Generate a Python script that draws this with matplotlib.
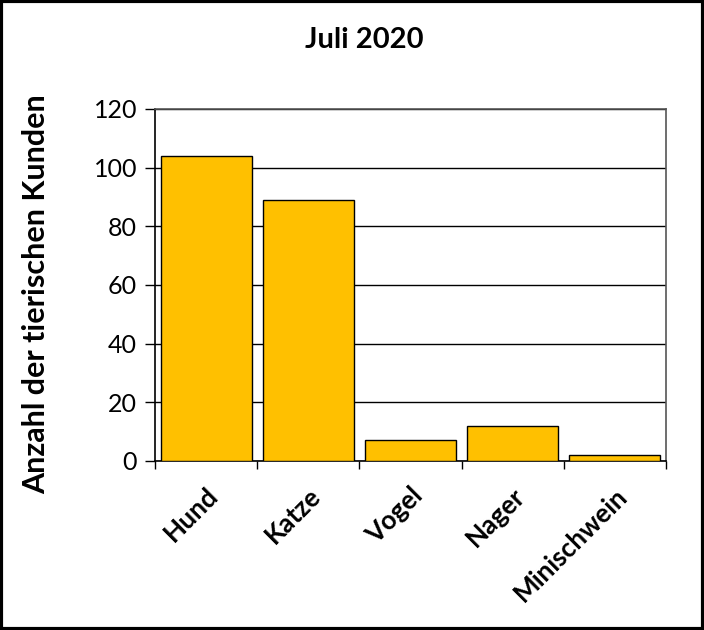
import matplotlib.pyplot as plt
import numpy as np

plt.rcParams['font.family'] = ['Lato', 'DejaVu Sans']

categories = ["Hund", "Katze", "Vogel", "Nager", "Minischwein"]
counts = [104, 89, 7, 12, 2]
y_ticks = [0, 20, 40, 60, 80, 100, 120]

fig = plt.figure(figsize=(7.04, 6.30), dpi=100)
ax = fig.add_axes([0.2202, 0.2683, 0.7258, 0.5587])

x = np.arange(len(categories))
ax.bar(x, counts, width=0.89, color="#FFC000", edgecolor="black", linewidth=1, zorder=3)

ax.set_xlim(-0.5, len(categories) - 0.5)
ax.set_ylim(0, 120)
ax.set_yticks(y_ticks)
ax.yaxis.grid(True, color="black", linewidth=1, zorder=0)
ax.tick_params(axis="y", direction="out", length=7, width=1, labelsize=18, pad=6)

# ticks at category boundaries, labels centred on bars
ax.set_xticks(np.arange(len(categories) + 1) - 0.5)
ax.set_xticklabels([])
ax.set_xticks(x, minor=True)
ax.set_xticklabels(categories, minor=True, rotation=45, ha="right",
                   rotation_mode="anchor", fontsize=19, fontweight="bold")
ax.tick_params(axis="x", which="major", direction="out", length=6, width=1)
ax.tick_params(axis="x", which="minor", length=0, pad=16)

for s in ax.spines.values():
    s.set_color("#555555")
    s.set_linewidth(1.2)
ax.spines["left"].set_color("black")
ax.spines["bottom"].set_color("black")

ax.set_ylabel("Anzahl der tierischen Kunden", fontsize=22, fontweight="bold")
ax.yaxis.set_label_coords(-0.205, 0.474)
fig.text(0.518, 0.937, "Juli 2020", ha="center", va="center", fontsize=21, fontweight="bold")

# outer frame
fig.patches.append(plt.Rectangle((0.002, 0.002), 0.996, 0.996, transform=fig.transFigure,
                                 fill=False, edgecolor="black", linewidth=3))

fig.savefig("out.png", dpi=100)
